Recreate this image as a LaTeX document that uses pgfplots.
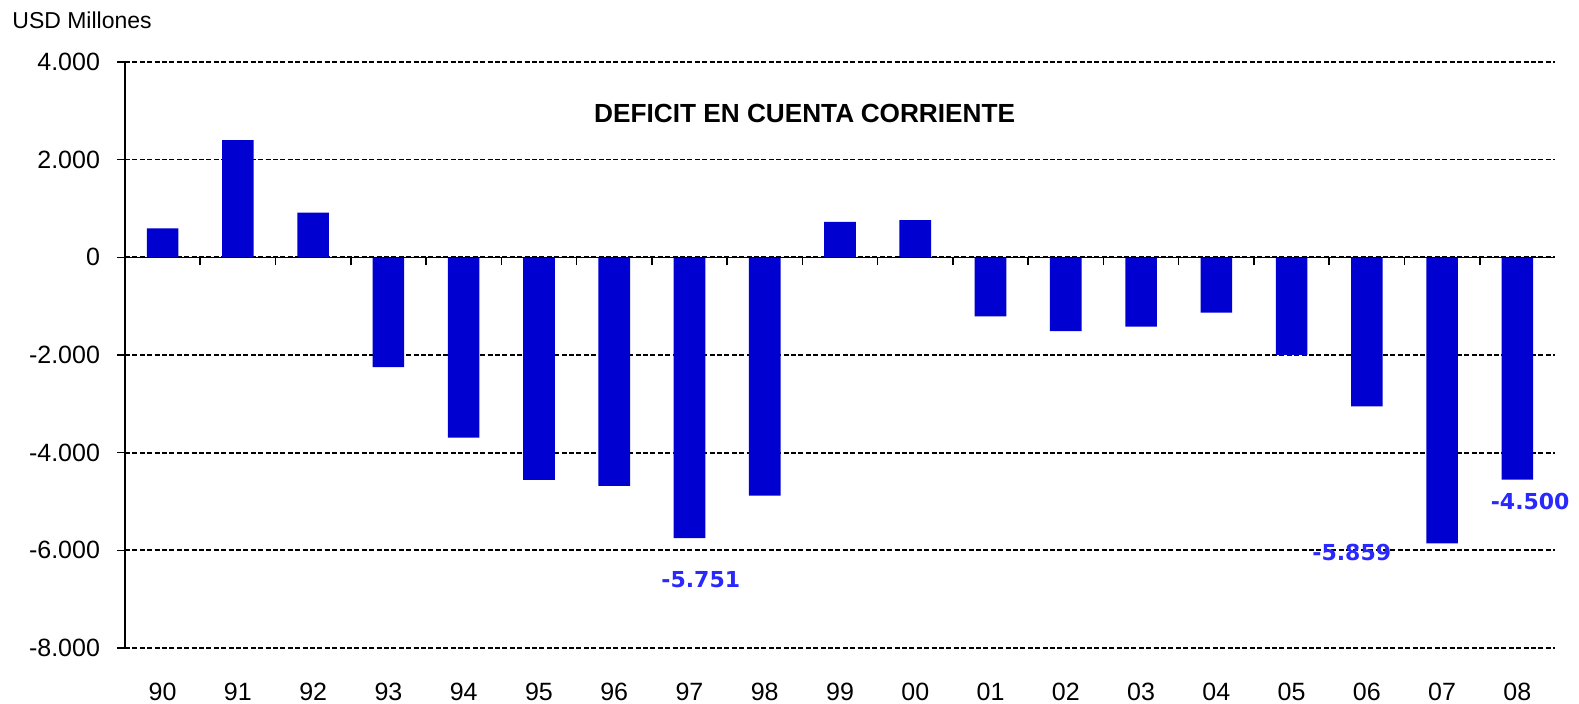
\documentclass[border=0pt]{standalone}
\usepackage{fontspec}
\setmainfont{Liberation Sans}
\newfontfamily\labelfont{DejaVu Sans}
\usepackage{pgfplots}
\usepackage{pgfplotstable}
\pgfplotsset{compat=1.18}
\definecolor{barblue}{RGB}{0,0,208}
\definecolor{lblblue}{RGB}{40,40,255}
\pgfplotstableread{
x val
0 595
1 2400
2 915
3 -2250
4 -3690
5 -4560
6 -4680
7 -5751
8 -4880
9 725
10 760
11 -1210
12 -1510
13 -1420
14 -1135
15 -2000
16 -3050
17 -5859
18 -4550
}\datatable
\begin{document}
\begin{tikzpicture}
\begin{axis}[
  name=main, at={(0,0)}, anchor=south west,
  scale only axis, width=715pt, height=293pt,
  xmin=-0.5, xmax=18.5, ymin=-8000, ymax=4000,
  axis x line*=bottom, axis y line*=left,
  x axis line style={draw=none},
  y axis line style={black, line width=0.8pt},
  xtick={0,...,18},
  xticklabels={90,91,92,93,94,95,96,97,98,99,00,01,02,03,04,05,06,07,08},
  x tick style={draw=none},
  xticklabel style={font=\fontsize{12.5}{14}\selectfont, yshift=-10pt},
  ytick={-8000,-6000,...,4000},
  yticklabels={-8.000,-6.000,-4.000,-2.000,0,2.000,4.000},
  y tick style={black, line width=0.8pt},
  ytick align=outside, major tick length=4pt,
  yticklabel style={font=\fontsize{12.5}{14}\selectfont, xshift=-5pt},
  ymajorgrids, grid style={black, line width=0.85pt, dash pattern=on 2.5pt off 1.2pt},
  ybar, bar width=0.42,
  clip=false,
]
\addplot[fill=barblue, draw=none] table[x=x,y=val]{\datatable};
\node[font=\bfseries\fontsize{13.1}{15}\selectfont] at (axis cs:8.53,2950) {DEFICIT EN CUENTA\hspace{0.25em}CORRIENTE};
\node[font=\labelfont\bfseries\fontsize{11}{13}\selectfont, text=lblblue] at (axis cs:7.15,-6600) {-5.751};
\node[font=\labelfont\bfseries\fontsize{11}{13}\selectfont, text=lblblue] at (axis cs:15.8,-6050) {-5.859};
\node[font=\labelfont\bfseries\fontsize{11}{13}\selectfont, text=lblblue] at (axis cs:18.17,-5000) {-4.500};
\end{axis}
\begin{axis}[
  at={(0,0)}, anchor=south west,
  scale only axis, width=715pt, height=293pt,
  xmin=-0.5, xmax=18.5, ymin=-8000, ymax=4000,
  axis x line=middle, axis y line=none,
  axis line style={-, black, line width=0.8pt},
  xtick={0.5,1.5,...,17.5}, xticklabels={},
  xtick align=outside, major tick length=4pt,
  x tick style={black, line width=0.8pt},
  ytick=\empty,
]
\addplot[draw=none] coordinates {(0,0)};
\end{axis}
\node[anchor=west, font=\fontsize{11.5}{13}\selectfont, inner sep=0pt] at ([xshift=-56.5pt, yshift=21pt]main.north west) {USD Millones};
\pgfresetboundingbox
\path[use as bounding box] (-62.5pt,-28pt) rectangle (727pt,324pt);
\end{tikzpicture}
\end{document}
